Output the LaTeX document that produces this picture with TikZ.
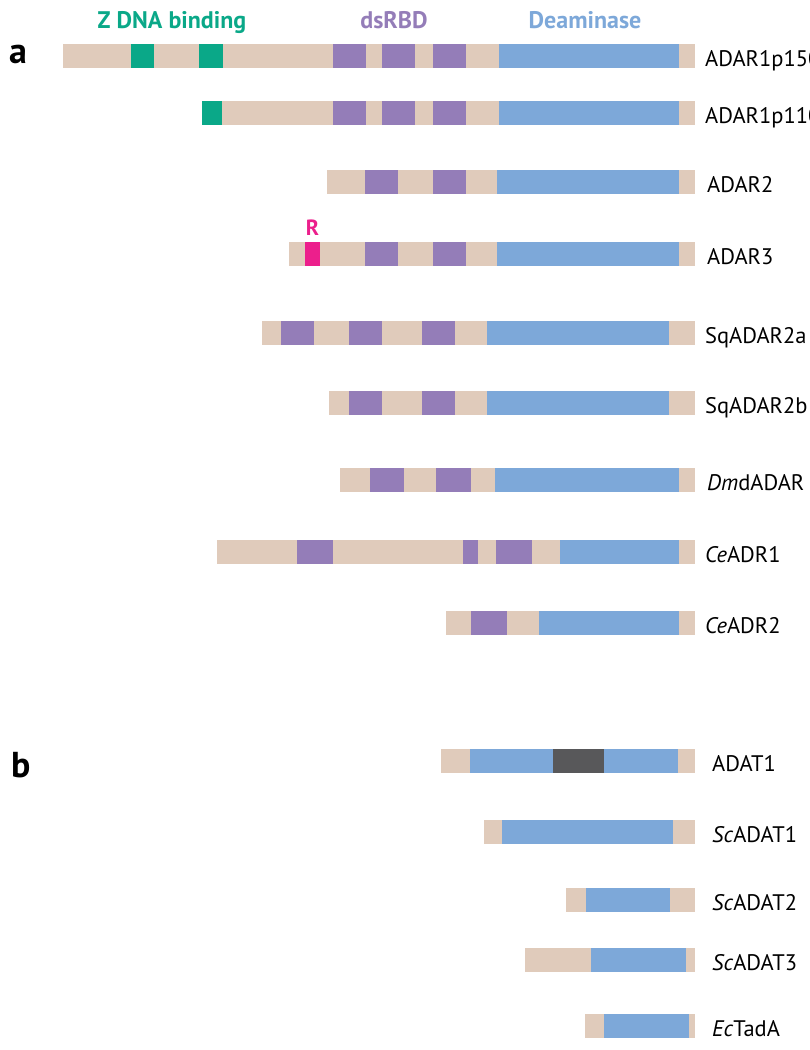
\documentclass[tikz,border=0pt]{standalone}
\usepackage{fontspec}
\setmainfont{PT Sans}
\definecolor{dmtan}{HTML}{E0CBBB}
\definecolor{dmgreen}{HTML}{0AA888}
\definecolor{dmpurple}{HTML}{947DB8}
\definecolor{dmblue}{HTML}{7DA8D9}
\definecolor{dmpink}{HTML}{EC1F8C}
\definecolor{dmdark}{HTML}{58585A}
\tikzset{
  backbone/.style={fill=dmtan},
  zdna/.style={fill=dmgreen},
  dsrbd/.style={fill=dmpurple},
  deam/.style={fill=dmblue},
  protLabel/.style={anchor=base west, inner sep=0pt, font=\fontsize{22.5}{27}\selectfont},
  headLabel/.style={anchor=base, inner sep=0pt, font=\fontsize{24}{28}\selectfont\bfseries},
  panelLabel/.style={anchor=base west, inner sep=0pt, font=\fontsize{36}{42}\selectfont\bfseries}
}

\begin{document}
\begin{tikzpicture}[x=1pt,y=-1pt]
  \useasboundingbox (0,0) rectangle (809,1050);
  % headers
  \node[headLabel, text=dmgreen] (hzdna) at (172,28) {Z DNA binding};
  \node[headLabel, text=dmpurple] (hdsrbd) at (394,28) {dsRBD};
  \node[headLabel, text=dmblue] (hdeam) at (585,28) {Deaminase};
  \node[panelLabel] (pa) at (9,63) {a};
  \node[panelLabel] (pb) at (11,777) {b};
  % ADAR1p150
  \fill[backbone] (63,44) rectangle (695,68);
  \foreach \a/\b in {131/154,199/223} \fill[zdna] (\a,44) rectangle (\b,68);
  \foreach \a/\b in {333/366,382/415,433/466} \fill[dsrbd] (\a,44) rectangle (\b,68);
  \fill[deam] (499,44) rectangle (679,68);
  \node[protLabel] (adarp150) at (705,66) {ADAR1p150};
  % ADAR1p110
  \fill[backbone] (202,101) rectangle (695,125);
  \fill[zdna] (202,101) rectangle (222,125);
  \foreach \a/\b in {333/366,382/415,433/466} \fill[dsrbd] (\a,101) rectangle (\b,125);
  \fill[deam] (499,101) rectangle (679,125);
  \node[protLabel] (adarp110) at (705,123) {ADAR1p110};
  % ADAR2
  \fill[backbone] (327,170) rectangle (695,194);
  \foreach \a/\b in {365/398,433/466} \fill[dsrbd] (\a,170) rectangle (\b,194);
  \fill[deam] (497,170) rectangle (679,194);
  \node[protLabel] (adar2) at (707,192) {ADAR2};
  % ADAR3
  \fill[backbone] (289,242) rectangle (695,266);
  \fill[dmpink] (305,242) rectangle (320,266);
  \foreach \a/\b in {365/398,433/466} \fill[dsrbd] (\a,242) rectangle (\b,266);
  \fill[deam] (497,242) rectangle (679,266);
  \node[protLabel] (adar3) at (707,264) {ADAR3};
  \node[anchor=base, inner sep=0pt, text=dmpink, font=\fontsize{22}{26}\selectfont\bfseries] (rmotif) at (312.5,235) {R};
  % SqADAR2a
  \fill[backbone] (262,321) rectangle (695,345);
  \foreach \a/\b in {281/314,349/382,422/455} \fill[dsrbd] (\a,321) rectangle (\b,345);
  \fill[deam] (487,321) rectangle (669,345);
  \node[protLabel] (sqadara) at (705,343) {SqADAR2a};
  % SqADAR2b
  \fill[backbone] (329,391) rectangle (695,415);
  \foreach \a/\b in {349/382,422/455} \fill[dsrbd] (\a,391) rectangle (\b,415);
  \fill[deam] (487,391) rectangle (669,415);
  \node[protLabel] (sqadarb) at (705,413) {SqADAR2b};
  % DmdADAR
  \fill[backbone] (340,468) rectangle (695,492);
  \foreach \a/\b in {370/404,436/471} \fill[dsrbd] (\a,468) rectangle (\b,492);
  \fill[deam] (495,468) rectangle (679,492);
  \node[protLabel] (dmdadar) at (707,490) {\textit{Dm}dADAR};
  % CeADR1
  \fill[backbone] (217,540) rectangle (695,564);
  \foreach \a/\b in {297/333,463/478,496/532} \fill[dsrbd] (\a,540) rectangle (\b,564);
  \fill[deam] (560,540) rectangle (679,564);
  \node[protLabel] (ceadr1) at (705,562) {\textit{Ce}ADR1};
  % CeADR2
  \fill[backbone] (446,611) rectangle (695,635);
  \fill[dsrbd] (471,611) rectangle (507,635);
  \fill[deam] (539,611) rectangle (679,635);
  \node[protLabel] (ceadr2) at (705,633) {\textit{Ce}ADR2};
  % ADAT1
  \fill[backbone] (441,749) rectangle (695,773);
  \fill[deam] (470,749) rectangle (678,773);
  \fill[dmdark] (553,749) rectangle (604,773);
  \node[protLabel] (adat1) at (712,771) {ADAT1};
  % ScADAT1
  \fill[backbone] (484,820) rectangle (695,844);
  \fill[deam] (502,820) rectangle (673,844);
  \node[protLabel] (scadat1) at (712,842) {\textit{Sc}ADAT1};
  % ScADAT2
  \fill[backbone] (566,888) rectangle (695,912);
  \fill[deam] (586,888) rectangle (670,912);
  \node[protLabel] (scadat2) at (712,910) {\textit{Sc}ADAT2};
  % ScADAT3
  \fill[backbone] (525,948) rectangle (695,972);
  \fill[deam] (591,948) rectangle (686,972);
  \node[protLabel] (scadat3) at (712,970) {\textit{Sc}ADAT3};
  % EcTadA
  \fill[backbone] (585,1014) rectangle (695,1038);
  \fill[deam] (604,1014) rectangle (689,1038);
  \node[protLabel] (ectada) at (712,1036) {\textit{Ec}TadA};
\end{tikzpicture}
\end{document}
